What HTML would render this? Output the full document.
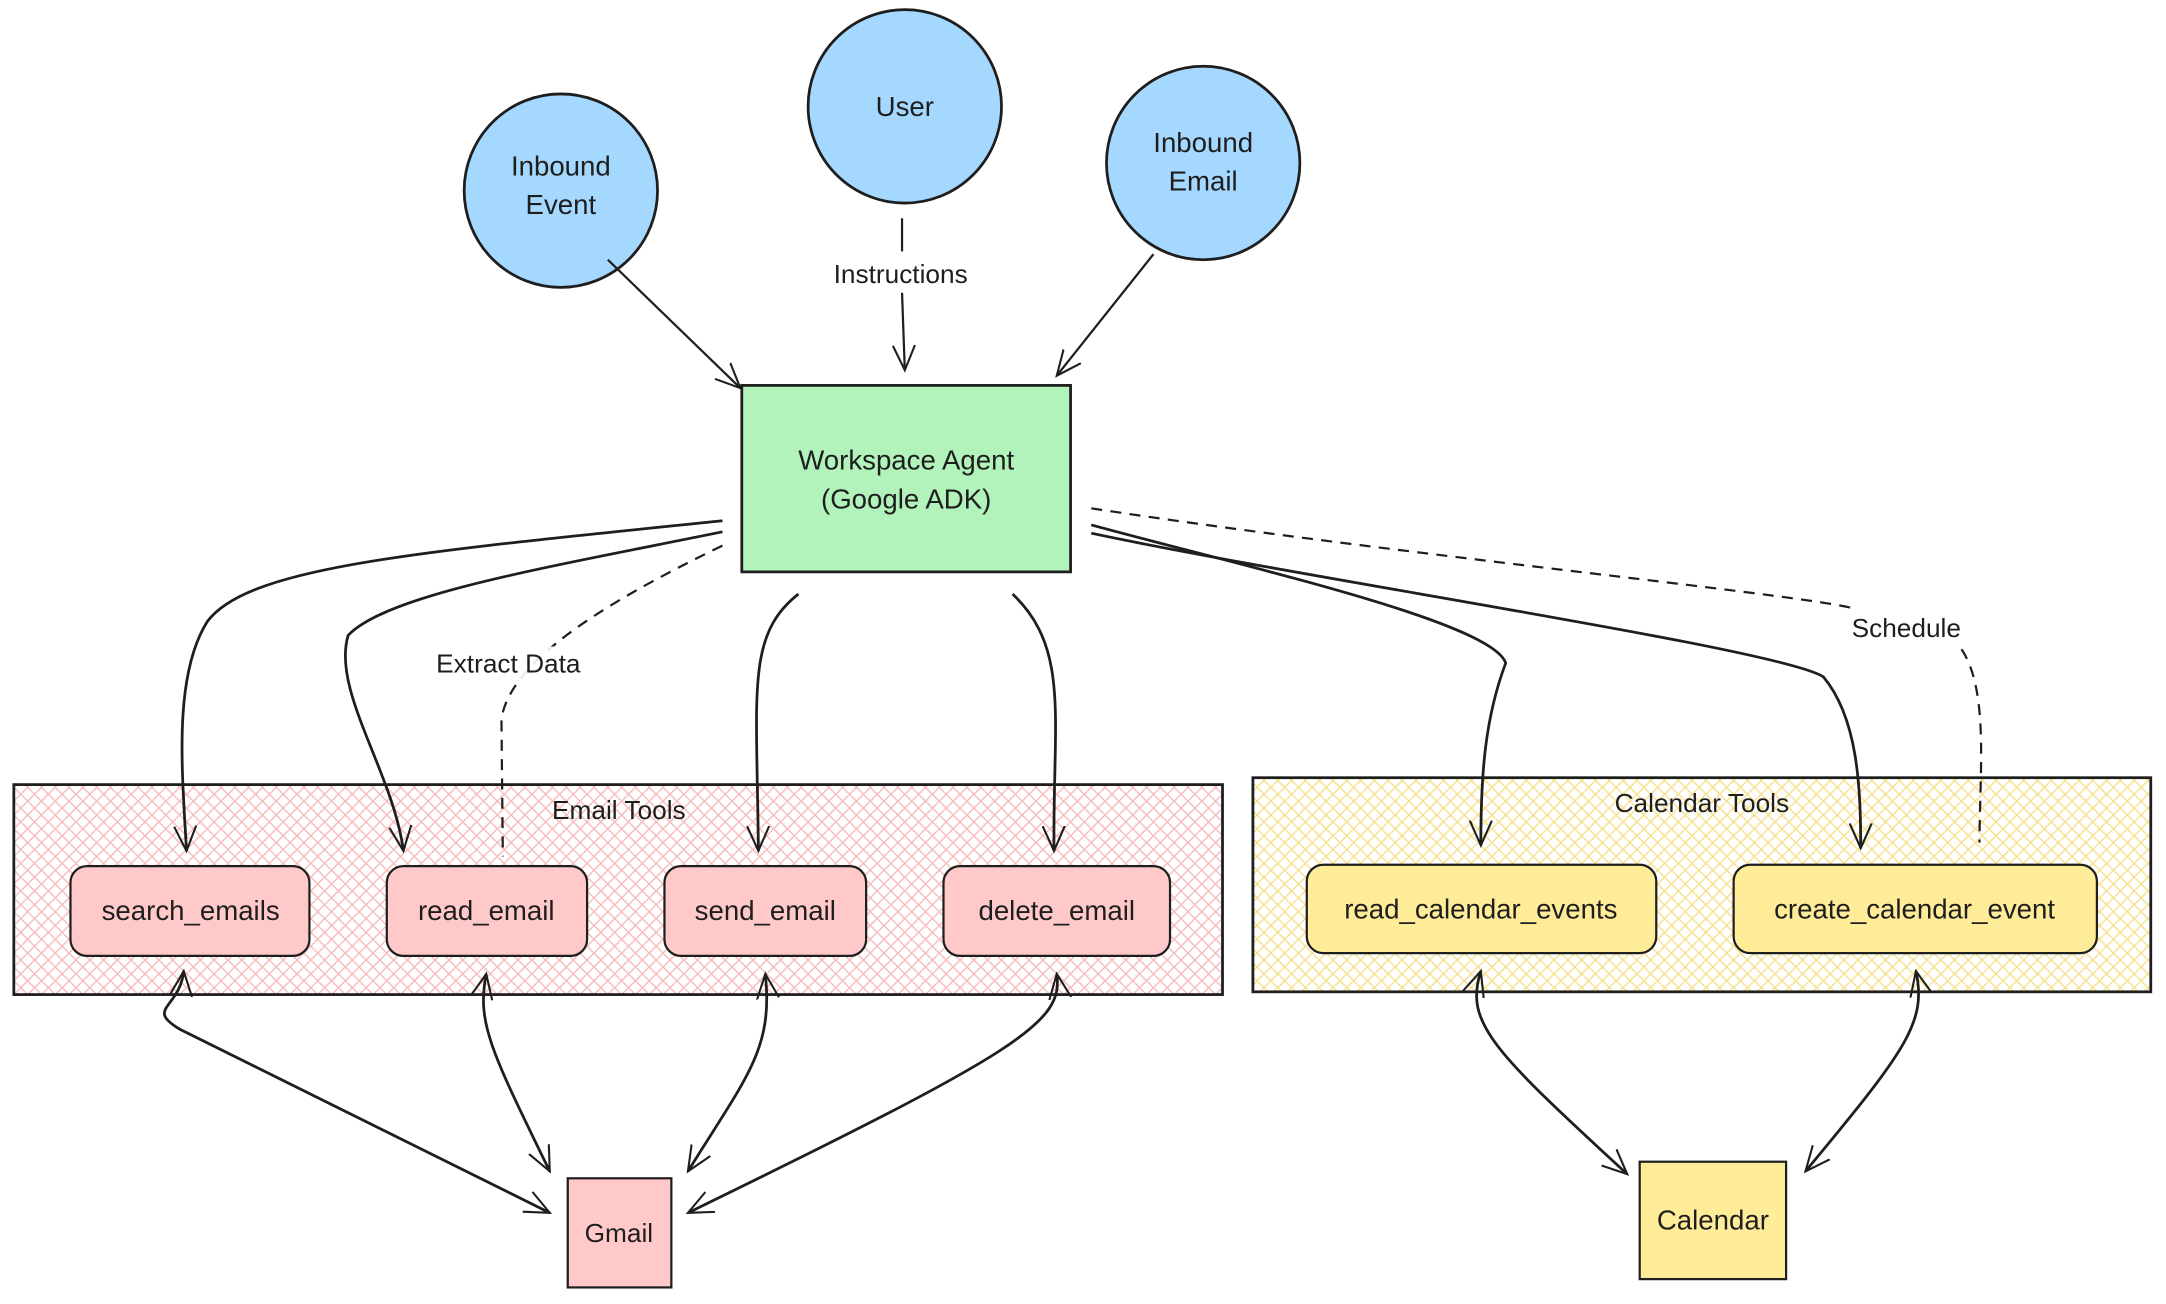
<!DOCTYPE html>
<html><head><meta charset="utf-8"><style>
html,body{margin:0;padding:0;background:#fff;}
svg{display:block;}
text{font-family:"Comic Sans MS","Liberation Sans",sans-serif;fill:#1e1e1e;}
</style></head><body>
<svg width="2166" height="1304" viewBox="0 0 1568 944" xmlns="http://www.w3.org/2000/svg">
<defs>
<pattern id="hp" width="10" height="10" patternUnits="userSpaceOnUse">
<rect width="10" height="10" fill="#fff"/>
<path d="M0,0 L10,10 M10,0 L0,10" stroke="#f7b9b9" stroke-width="1"/>
</pattern>
<pattern id="hy" width="10" height="10" patternUnits="userSpaceOnUse">
<rect width="10" height="10" fill="#fff"/>
<path d="M0,0 L10,10 M10,0 L0,10" stroke="#f5e08a" stroke-width="1"/>
</pattern>
<marker id="a" viewBox="0 0 20 20" refX="18" refY="10" markerWidth="20" markerHeight="20" markerUnits="userSpaceOnUse" orient="auto-start-reverse">
<path d="M0,2 L18,10 L0,18" fill="none" stroke="#1e1e1e" stroke-width="1.5"/>
</marker>
</defs>
<rect width="1568" height="944" fill="#fff"/>

<!-- containers -->
<rect x="10" y="568" width="875" height="152" fill="url(#hp)" stroke="#1e1e1e" stroke-width="2"/>
<text x="448" y="593" font-size="19" text-anchor="middle">Email Tools</text>
<rect x="907" y="563" width="650" height="155" fill="url(#hy)" stroke="#1e1e1e" stroke-width="2"/>
<text x="1232" y="588" font-size="19" text-anchor="middle">Calendar Tools</text>

<!-- circles -->
<circle cx="406" cy="138" r="70" fill="#a5d8ff" stroke="#1e1e1e" stroke-width="2"/>
<text x="406" y="127" font-size="20" text-anchor="middle">Inbound</text>
<text x="406" y="155" font-size="20" text-anchor="middle">Event</text>
<circle cx="655" cy="77" r="70" fill="#a5d8ff" stroke="#1e1e1e" stroke-width="2"/>
<text x="655" y="84" font-size="20" text-anchor="middle">User</text>
<circle cx="871" cy="118" r="70" fill="#a5d8ff" stroke="#1e1e1e" stroke-width="2"/>
<text x="871" y="110" font-size="20" text-anchor="middle">Inbound</text>
<text x="871" y="138" font-size="20" text-anchor="middle">Email</text>

<!-- agent -->
<rect x="537" y="279" width="238" height="135" fill="#b2f2bb" stroke="#1e1e1e" stroke-width="2"/>
<text x="656" y="340" font-size="20" text-anchor="middle">Workspace Agent</text>
<text x="656" y="368" font-size="20" text-anchor="middle">(Google ADK)</text>

<!-- incoming -->
<g fill="none" stroke="#1e1e1e" stroke-width="1.6" marker-end="url(#a)">
<path d="M440,188 L536,281"/>
<path d="M653,212 L655,268"/>
<path d="M835,184 L765,272"/>
</g>
<line x1="653" y1="158" x2="653" y2="182" stroke="#1e1e1e" stroke-width="1.6"/>
<rect x="583" y="186" width="140" height="24" fill="#fff"/>
<text x="652" y="205" font-size="19" text-anchor="middle">Instructions</text>

<!-- outgoing -->
<g fill="none" stroke="#1e1e1e" stroke-width="2" marker-end="url(#a)">
<path d="M523,377 C300,400 180,410 150,450 C125,490 132,560 135,616"/>
<path d="M523,385 C400,410 280,430 252,460 C240,500 285,560 292,616"/>
<path d="M578,430 C540,460 548,500 549,616"/>
<path d="M733,430 C775,470 762,520 763,616"/>
<path d="M790,380 C900,410 1080,450 1090,480 C1075,520 1072,560 1072,612"/>
<path d="M790,386 C950,420 1290,470 1320,490 C1345,520 1347,570 1347,614"/>
</g>
<g fill="none" stroke="#1e1e1e" stroke-width="1.6" stroke-dasharray="8 6">
<path d="M523,395 C430,440 370,480 363,520 L364,620"/>
<path d="M790,368 C1000,400 1300,430 1340,440"/>
<path d="M1420,470 C1440,500 1433,560 1433,610"/>
</g>
<rect x="292" y="468" width="150" height="24" fill="#fff" opacity="0.9"/>
<text x="368" y="487" font-size="19" text-anchor="middle">Extract Data</text>
<text x="1380" y="461" font-size="19" text-anchor="middle">Schedule</text>

<!-- tools -->
<g stroke="#1e1e1e" stroke-width="1.6">
<rect x="51" y="627" width="173" height="65" rx="12" fill="#ffc9c9"/>
<rect x="280" y="627" width="145" height="65" rx="12" fill="#ffc9c9"/>
<rect x="481" y="627" width="146" height="65" rx="12" fill="#ffc9c9"/>
<rect x="683" y="627" width="164" height="65" rx="12" fill="#ffc9c9"/>
<rect x="946" y="626" width="253" height="64" rx="12" fill="#ffec99"/>
<rect x="1255" y="626" width="263" height="64" rx="12" fill="#ffec99"/>
<rect x="411" y="853" width="75" height="79" fill="#ffc9c9"/>
<rect x="1187" y="841" width="106" height="85" fill="#ffec99"/>
</g>
<g font-size="20" text-anchor="middle">
<text x="138" y="666">search_emails</text>
<text x="352" y="666">read_email</text>
<text x="554" y="666">send_email</text>
<text x="765" y="666">delete_email</text>
<text x="1072" y="665">read_calendar_events</text>
<text x="1386" y="665">create_calendar_event</text>
<text x="448" y="899" font-size="19">Gmail</text>
<text x="1240" y="890">Calendar</text>
</g>

<!-- bidirectional -->
<g fill="none" stroke="#1e1e1e" stroke-width="2" marker-start="url(#a)" marker-end="url(#a)">
<path d="M133,703 C130,730 105,730 130,745 L398,878"/>
<path d="M352,705 C345,740 355,760 398,848"/>
<path d="M554,705 C560,760 540,780 498,848"/>
<path d="M765,705 C770,740 740,760 498,878"/>
<path d="M1072,703 C1060,740 1080,760 1178,850"/>
<path d="M1387,703 C1395,740 1380,760 1307,848"/>
</g>
</svg>
</body></html>
